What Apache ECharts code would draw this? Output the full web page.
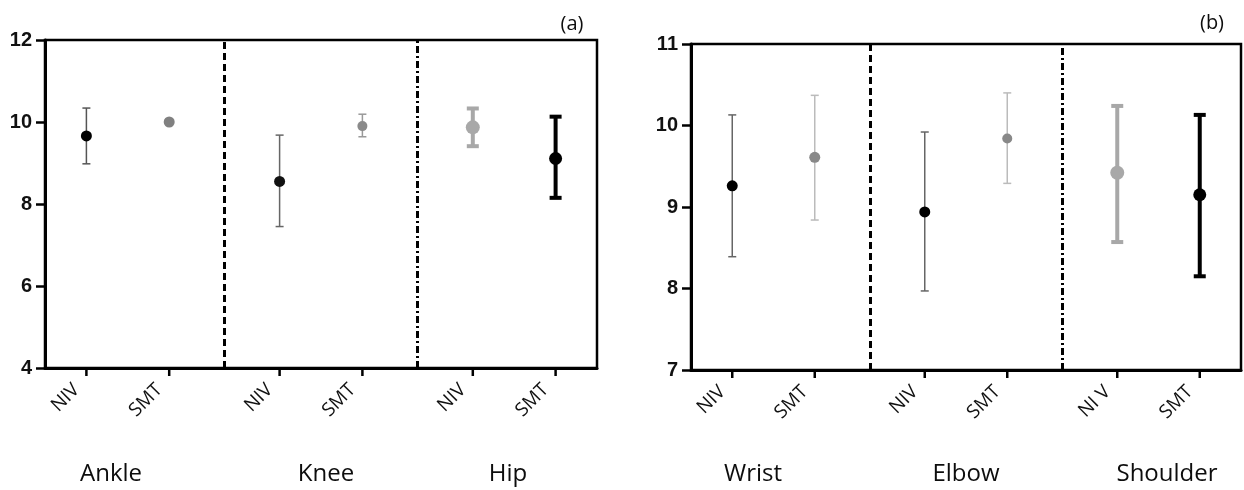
<!DOCTYPE html>
<html lang="en">
<head>
    <meta charset="UTF-8">
    <title>NIV vs SMT</title>
    <script src="https://cdn.jsdelivr.net/npm/echarts@6/dist/echarts.min.js"></script>
</head>
<style>
    *{margin:0;padding:0;}
    html,body{width:100%;height:100%;overflow:hidden;background:#fff;}
    .container{width:1244px;height:490px;}
</style>
<body>
<div class="container"></div>
<script>
    // 20 slots along each x axis, measurements sit on some of them
    const slotCount = 20;
    const slotPos = [1, 4, 8, 11, 15, 18];
    const dividerPos = [6, 13];

    const leftTicks = ['NIV', 'SMT', 'NIV', 'SMT', 'NIV', 'SMT'];
    const leftGroups = ['Ankle', 'Knee', 'Hip'];
    const leftMean = [9.66, 10.0, 8.55, 9.90, 9.87, 9.11];
    const leftLow = [8.98, 10.0, 7.45, 9.64, 9.41, 8.15];
    const leftHigh = [10.34, 10.0, 9.68, 10.19, 10.33, 10.13];

    const rightTicks = ['NIV', 'SMT', 'NIV', 'SMT', 'NI V', 'SMT'];
    const rightGroups = ['Wrist', 'Elbow', 'Shoulder'];
    const rightMean = [9.26, 9.61, 8.94, 9.84, 9.42, 9.15];
    const rightLow = [8.39, 8.84, 7.97, 9.29, 8.57, 8.15];
    const rightHigh = [10.13, 10.37, 9.92, 10.40, 10.24, 10.13];

    // styles per point
    const leftDot = ['#000', '#808080', '#111', '#8a8a8a', '#a8a8a8', '#000'];
    const leftBar = ['#555', '#808080', '#666', '#999', '#a8a8a8', '#000'];
    const rightDot = ['#000', '#888', '#000', '#888', '#a8a8a8', '#000'];
    const rightBar = ['#666', '#bbb', '#666', '#bbb', '#a8a8a8', '#000'];
    const barWidth = [1.5, 1.5, 1.5, 1.5, 4, 4];
    const capHalf = [4, 4, 4, 4, 6, 6];
    const dotSize = [11, 11, 11, 10, 14, 13];

    let container = document.querySelector('.container');
    let mycharts = echarts.init(container);

    function slotNames(ticks) {
        let arr = [];
        for (let i = 0; i < slotCount; i++) {
            let k = slotPos.indexOf(i);
            arr.push(k >= 0 ? ticks[k] : '');
        }
        return arr;
    }

    function xAxisFor(idx, ticks) {
        let names = slotNames(ticks);
        return {
            type: 'category',
            gridIndex: idx,
            data: names.map((n, i) => String(i)),
            boundaryGap: true,
            axisLine: {lineStyle: {color: '#000', width: 3}},
            axisTick: {show: false},
            axisLabel: {
                interval: 0,
                rotate: 45,
                margin: 9,
                padding: [0, 14, 0, 0],
                color: '#111',
                fontSize: 19,
                fontFamily: 'Open Sans',
                formatter: (v, i) => names[i]
            },
            splitLine: {show: false}
        };
    }

    function yAxisFor(idx, min, max, interval) {
        return {
            type: 'value',
            gridIndex: idx,
            min: min,
            max: max,
            interval: interval,
            axisLine: {show: true, lineStyle: {color: '#000', width: 3}},
            axisTick: {show: true, length: 9, lineStyle: {color: '#000', width: 2.5}},
            axisLabel: {
                color: '#111',
                fontSize: 20,
                fontWeight: 'bold',
                fontFamily: 'Liberation Sans',
                margin: 13
            },
            splitLine: {show: false}
        };
    }

    // small ticks under the x axis, only on the measured slots
    function tickSeries(idx, yMin) {
        return {
            type: 'custom',
            xAxisIndex: idx,
            yAxisIndex: idx,
            z: 4,
            silent: true,
            clip: false,
            data: slotPos.map(p => [p, yMin]),
            renderItem: function (params, api) {
                let pt = api.coord([api.value(0), api.value(1)]);
                return {
                    type: 'line',
                    shape: {x1: pt[0], y1: pt[1], x2: pt[0], y2: pt[1] + 8},
                    style: {stroke: '#000', lineWidth: 2.5}
                };
            }
        };
    }

    function errorSeries(idx, low, high, colors) {
        return {
            type: 'custom',
            xAxisIndex: idx,
            yAxisIndex: idx,
            z: 2,
            silent: true,
            data: slotPos.map((p, i) => [p, low[i], high[i], i]),
            renderItem: function (params, api) {
                let k = api.value(3);
                let top = api.coord([api.value(0), api.value(2)]);
                let bot = api.coord([api.value(0), api.value(1)]);
                if (Math.abs(top[1] - bot[1]) < 1) return null;
                let hw = capHalf[k];
                let style = {stroke: colors[k], lineWidth: barWidth[k]};
                return {
                    type: 'group',
                    children: [
                        {type: 'line', shape: {x1: top[0], y1: top[1], x2: bot[0], y2: bot[1]}, style: style},
                        {type: 'line', shape: {x1: top[0] - hw, y1: top[1], x2: top[0] + hw, y2: top[1]}, style: style},
                        {type: 'line', shape: {x1: bot[0] - hw, y1: bot[1], x2: bot[0] + hw, y2: bot[1]}, style: style}
                    ]
                };
            }
        };
    }

    function dotSeries(idx, mean, colors) {
        return {
            type: 'scatter',
            xAxisIndex: idx,
            yAxisIndex: idx,
            z: 3,
            silent: true,
            data: slotPos.map((p, i) => ({
                value: [String(p), mean[i]],
                symbolSize: dotSize[i],
                itemStyle: {color: colors[i], opacity: 1}
            })),
            markLine: {
                silent: true,
                symbol: ['none', 'none'],
                label: {show: false},
                data: [
                    {xAxis: String(dividerPos[0]), lineStyle: {color: '#000', width: 3, type: [7, 4]}},
                    {xAxis: String(dividerPos[1]), lineStyle: {color: '#000', width: 3, type: [7, 3, 2, 3]}}
                ]
            }
        };
    }

    function label(text, x, y, size) {
        return {
            type: 'text',
            x: x,
            y: y,
            style: {
                text: text, fill: '#0d0d0d', fontSize: size, fontFamily: 'Open Sans',
                align: 'center', verticalAlign: 'middle'
            }
        };
    }

    let options = {
        backgroundColor: '#fff',
        animation: false,
        grid: [
            {left: 45, right: 647, top: 40, bottom: 122, show: true, borderColor: '#000', borderWidth: 2.5},
            {left: 691, right: 3, top: 44, bottom: 120, show: true, borderColor: '#000', borderWidth: 2.5}
        ],
        xAxis: [xAxisFor(0, leftTicks), xAxisFor(1, rightTicks)],
        yAxis: [yAxisFor(0, 4, 12, 2), yAxisFor(1, 7, 11, 1)],
        graphic: [
            label('(a)', 572, 24, 20),
            label('(b)', 1212, 23, 20),
            label(leftGroups[0], 111, 474, 24),
            label(leftGroups[1], 326, 474, 24),
            label(leftGroups[2], 508, 474, 24),
            label(rightGroups[0], 753, 474, 24),
            label(rightGroups[1], 966, 474, 24),
            label(rightGroups[2], 1167, 474, 24)
        ],
        series: [
            errorSeries(0, leftLow, leftHigh, leftBar),
            dotSeries(0, leftMean, leftDot),
            tickSeries(0, 4),
            errorSeries(1, rightLow, rightHigh, rightBar),
            dotSeries(1, rightMean, rightDot),
            tickSeries(1, 7)
        ]
    };
    mycharts.setOption(options);
</script>
</body>
</html>
